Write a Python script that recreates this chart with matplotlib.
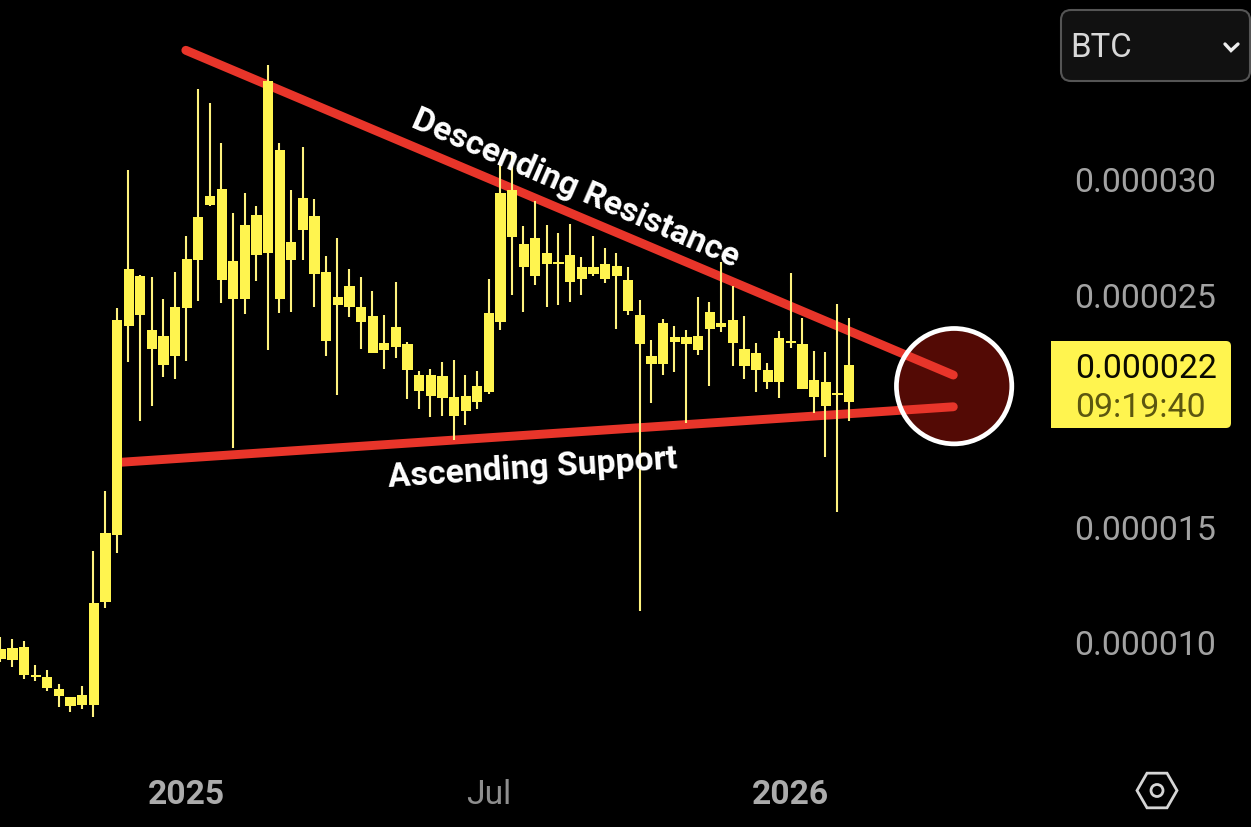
import numpy as np
import matplotlib
matplotlib.use("Agg")
import matplotlib.pyplot as plt
from matplotlib.patches import FancyBboxPatch, Rectangle, RegularPolygon, Circle

# prices are in units of 0.000001, one candle per week
highs = [10.21, 10.13, 10.04, 9.00, 8.79, 8.18, 7.62, 8.10, 13.93, 16.52,
         24.43, 30.39, 25.85, 25.77, 24.82, 25.98, 27.54, 33.89, 33.28, 31.56,
         28.53, 29.40, 28.83, 34.92, 31.56, 29.52, 31.38, 29.14, 26.67, 27.45,
         26.11, 25.77, 25.16, 24.12, 25.55, 22.96, 21.71, 21.79, 22.09, 22.18,
         21.53, 21.71, 25.68, 30.78, 31.17, 27.97, 29.05, 28.01, 27.67, 28.06,
         26.63, 27.54, 27.02, 26.80, 26.20, 24.77, 23.04, 23.95, 23.65, 23.48,
         24.90, 24.69, 26.41, 25.38, 24.08, 22.92, 22.05, 23.43, 25.94, 24.00,
         22.57, 22.53, 24.60, 24.00]
body_tops = [9.70, 9.74, 9.78, 8.57, 8.49, 7.97, 7.62, 7.71, 11.68, 14.71,
             23.91, 26.11, 25.81, 23.48, 23.22, 24.47, 26.54, 28.36, 29.27, 29.57,
             26.46, 28.01, 28.44, 34.23, 31.25, 27.28, 29.18, 28.40, 25.98, 24.90,
             25.38, 24.47, 24.08, 22.92, 23.61, 22.87, 21.53, 21.53, 21.49, 20.58,
             20.63, 21.06, 24.21, 29.40, 29.52, 27.19, 27.45, 26.80, 26.41, 26.72,
             26.20, 26.20, 26.33, 26.24, 25.64, 24.12, 22.35, 23.78, 23.17, 23.17,
             23.22, 24.25, 23.78, 23.91, 22.66, 22.48, 21.75, 23.13, 23.00, 22.87,
             21.32, 21.23, 20.76, 21.96]
body_bottoms = [9.26, 9.22, 8.57, 8.49, 8.01, 7.67, 7.23, 7.28, 7.28, 11.73,
                14.62, 23.65, 24.12, 22.66, 21.96, 22.35, 24.43, 26.50, 28.88, 25.64,
                24.82, 24.82, 26.72, 26.80, 24.82, 26.50, 27.80, 25.90, 23.00, 24.56,
                24.47, 23.82, 22.48, 22.61, 22.74, 21.75, 20.84, 20.63, 20.54, 19.76,
                19.98, 20.37, 20.80, 23.82, 27.49, 26.20, 25.81, 26.33, 26.33, 25.55,
                25.68, 25.90, 25.68, 25.81, 24.30, 22.87, 22.01, 22.01, 22.96, 22.87,
                22.61, 23.52, 23.61, 22.92, 21.92, 21.75, 21.23, 21.23, 22.92, 20.93,
                20.58, 20.19, 20.67, 20.37]
lows = [9.13, 8.92, 8.40, 8.31, 7.88, 7.19, 6.97, 7.10, 6.76, 11.47,
        13.84, 22.09, 19.55, 20.19, 21.45, 21.36, 22.14, 24.73, 28.83, 24.64,
        18.38, 24.17, 25.59, 22.61, 24.21, 24.25, 26.50, 24.47, 22.35, 20.67,
        24.04, 22.66, 22.48, 21.79, 22.27, 20.50, 20.06, 19.72, 19.76, 18.72,
        19.37, 20.06, 20.71, 23.48, 24.99, 24.25, 25.42, 24.47, 24.56, 24.69,
        24.99, 25.81, 25.51, 23.52, 24.12, 11.34, 20.32, 21.53, 21.66, 19.46,
        22.40, 21.06, 23.39, 21.92, 21.36, 20.80, 20.93, 20.54, 22.70, 20.93,
        19.89, 17.99, 15.61, 19.55]

price_ticks = [30, 25, 15, 10]
price_labels = ["0.000030", "0.000025", "0.000015", "0.000010"]
week_ticks = [16, 42, 68]
week_labels = ["2025", "Jul", "2026"]

resistance_x = [15.95, 82.0]
resistance_y = [35.56, 21.53]
support_x = [10.28, 82.0]
support_y = [17.76, 20.16]
target_x = 82.07
target_y = 21.05

last_price = "0.000022"
countdown = "09:19:40"

plt.rcParams["font.family"] = ["Roboto", "DejaVu Sans"]

yellow = "#FFF44F"
wick_yellow = "#FFF27F"
red = "#E8352A"

fig = plt.figure(figsize=(12.51, 8.28), dpi=100, facecolor="black")
ax = fig.add_axes([0, 0, 1, 1], facecolor="black")
ax.set_xlim(-0.043, 107.62)
ax.set_ylim(2.006, 37.776)
for s in ax.spines.values():
    s.set_visible(False)

x = np.arange(len(highs))
highs = np.array(highs)
lows = np.array(lows)
body_tops = np.array(body_tops)
body_bottoms = np.array(body_bottoms)

# trend lines sit under the candles
ax.plot(support_x, support_y, color=red, lw=6.4, solid_capstyle="round", zorder=2)
ax.plot(resistance_x, resistance_y, color=red, lw=6.4, solid_capstyle="round", zorder=2)

ax.vlines(x, lows, highs, color=wick_yellow, lw=1.5, zorder=3)
ax.bar(x + 0.03, body_tops - body_bottoms, bottom=body_bottoms, width=0.88, color=yellow,
       linewidth=0, zorder=4)

# circle marking where the lines meet
ax.scatter([target_x], [target_y], s=6900, color="#530A05", linewidths=0, zorder=1)
ax.scatter([target_x], [target_y], s=6900, facecolors="none", edgecolors="white",
           linewidths=3.4, zorder=5)

ax.yaxis.tick_right()
ax.set_yticks(price_ticks)
ax.set_yticklabels(price_labels, fontsize=24.4, color="#A2A2A2")
ax.tick_params(axis="y", length=0, pad=-127.5)
ax.set_xticks(week_ticks)
ax.set_xticklabels(week_labels, fontsize=24.2, color="#ABABAB")
ax.tick_params(axis="x", length=0, pad=-35.2)
for lab in ax.get_xticklabels():
    if lab.get_text() == "Jul":
        lab.set_color("#8E8E8E")
    else:
        lab.set_fontweight("bold")

ax.text(49.46, 29.62, "Descending Resistance", color="white", fontsize=24.2, fontweight="bold",
        rotation=-23.5, rotation_mode="anchor", ha="center", va="center", zorder=6)
ax.text(45.8, 17.55, "Ascending Support", color="white", fontsize=24.3, fontweight="bold",
        rotation=3.7, rotation_mode="anchor", ha="center", va="center", zorder=6)

# interface pieces, placed in screen pixels
ui = fig.add_axes([0, 0, 1, 1], facecolor="none")
ui.set_xlim(0, 1251)
ui.set_ylim(828, 0)
ui.axis("off")

ui.add_patch(FancyBboxPatch((1069, 19), 173, 55, boxstyle="round,pad=8,rounding_size=10",
                            facecolor="#111111", edgecolor="#555555", lw=1.5))
ui.text(1070.5, 48, "BTC", color="#D8D8D8", fontsize=23.8, ha="left", va="center")
ui.plot([1225, 1231, 1238], [45, 51.5, 45], color="#EEEEEE", lw=2.4, solid_capstyle="round",
        solid_joinstyle="miter")

ui.add_patch(FancyBboxPatch((1060, 347), 166, 77, boxstyle="round,pad=5,rounding_size=5",
                            facecolor=yellow, edgecolor="none"))
ui.add_patch(Rectangle((1051, 342), 30, 87, facecolor=yellow, edgecolor="none"))
ui.text(1075, 369, last_price, color="#0A0A00", fontsize=24.4, ha="left", va="center")
ui.text(1075, 408, countdown, color="#5C5710", fontsize=24.4, ha="left", va="center")

ui.add_patch(RegularPolygon((1157, 791.5), 6, radius=20, orientation=np.pi / 6, fill=False,
                            edgecolor="#D5D5D5", lw=2))
ui.add_patch(Circle((1157, 791.5), 6, fill=False, edgecolor="#D5D5D5", lw=2))

fig.savefig("out.png", dpi=100, facecolor="black")
